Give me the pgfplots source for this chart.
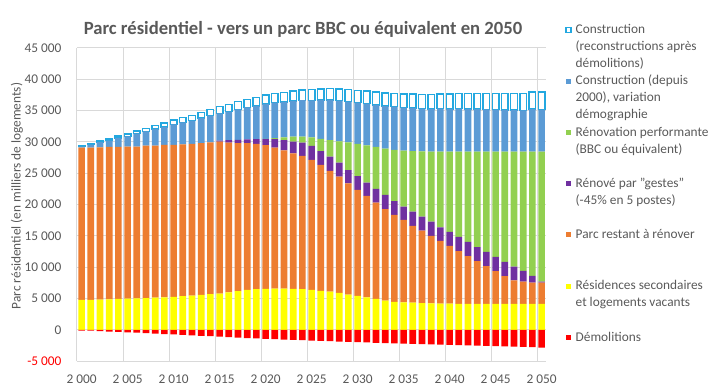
\documentclass[border=0pt]{standalone}
\usepackage{fontspec}
\setmainfont{Carlito}
\usepackage{pgfplots}
\pgfplotsset{compat=1.18}
\usepackage{pgfplotstable}
\definecolor{cred}{HTML}{FF0000}
\definecolor{cyel}{HTML}{FFFF00}
\definecolor{cora}{HTML}{ED7D31}
\definecolor{cpur}{HTML}{7030A0}
\definecolor{cgre}{HTML}{92D050}
\definecolor{cblu}{HTML}{5B9BD5}
\definecolor{cbox}{RGB}{35,168,224}
\definecolor{textgray}{HTML}{595959}
\definecolor{gridgray}{HTML}{D9D9D9}

\pgfplotstableread{
year dem yel ora pur gre blu whi
2000 -0.10 4.80 24.30 0 0 0.16 0.10
2001 -0.10 4.80 24.30 0 0 0.48 0.10
2002 -0.20 4.85 24.30 0 0 0.81 0.20
2003 -0.25 4.90 24.30 0 0 1.03 0.25
2004 -0.30 4.95 24.25 0 0 1.46 0.30
2005 -0.37 5.00 24.25 0 0 1.66 0.37
2006 -0.42 5.05 24.20 0 0 2.09 0.42
2007 -0.50 5.10 24.30 0 0 2.28 0.50
2008 -0.57 5.15 24.25 0 0 2.69 0.57
2009 -0.65 5.20 24.35 0 0 2.83 0.65
2010 -0.72 5.30 24.25 0 0 3.24 0.72
2011 -0.80 5.40 24.20 0 0 3.54 0.80
2012 -0.87 5.50 24.20 0 0 3.69 0.87
2013 -0.93 5.60 24.20 0 0 4.00 0.93
2014 -1.00 5.70 24.25 0 0 4.26 1.00
2015 -1.07 5.80 24.25 0.15 0 4.37 1.07
2016 -1.15 6.00 23.90 0.40 0 4.56 1.15
2017 -1.22 6.20 23.60 0.55 0 4.87 1.22
2018 -1.30 6.40 23.40 0.60 0 5.11 1.30
2019 -1.36 6.50 23.20 0.75 0 5.32 1.36
2020 -1.42 6.55 22.95 0.95 0.05 5.58 1.42
2021 -1.48 6.60 22.50 1.35 0.15 5.69 1.48
2022 -1.53 6.60 22.05 1.65 0.45 5.65 1.53
2023 -1.59 6.55 21.65 1.86 0.79 5.70 1.59
2024 -1.64 6.50 21.27 2.12 0.96 5.81 1.64
2025 -1.70 6.40 20.73 2.23 1.38 5.91 1.70
2026 -1.75 6.25 20.08 2.23 1.94 6.21 1.75
2027 -1.80 6.10 19.27 2.29 2.64 6.41 1.80
2028 -1.85 5.90 18.57 2.23 3.40 6.51 1.85
2029 -1.90 5.65 17.75 2.10 4.45 6.50 1.90
2030 -1.95 5.45 16.89 2.23 5.13 6.59 1.95
2031 -2.00 5.20 16.18 2.13 5.94 6.69 2.00
2032 -2.05 4.95 15.37 2.18 6.70 6.73 2.05
2033 -2.10 4.70 14.60 2.24 7.41 6.77 2.10
2034 -2.14 4.50 13.85 2.23 8.17 6.88 2.14
2035 -2.18 4.42 13.13 2.13 8.94 6.86 2.18
2036 -2.23 4.36 12.24 2.28 9.67 6.88 2.23
2037 -2.27 4.30 11.55 2.24 10.41 6.83 2.27
2038 -2.31 4.25 10.75 2.29 11.17 6.83 2.31
2039 -2.35 4.22 9.98 2.18 12.08 6.85 2.35
2040 -2.39 4.20 9.20 2.24 12.82 6.81 2.39
2041 -2.43 4.18 8.42 2.24 13.62 6.88 2.43
2042 -2.47 4.18 7.62 2.24 14.42 6.84 2.47
2043 -2.51 4.18 6.82 2.24 15.22 6.80 2.51
2044 -2.55 4.18 6.02 2.25 16.01 6.76 2.55
2045 -2.59 4.18 5.22 2.25 16.81 6.72 2.59
2046 -2.63 4.18 4.42 2.25 17.61 6.68 2.63
2047 -2.67 4.18 3.72 2.20 18.36 6.64 2.67
2048 -2.71 4.18 3.52 1.71 19.05 6.60 2.71
2049 -2.75 4.18 3.37 1.07 19.84 6.77 2.75
2050 -2.80 4.18 3.37 0.16 20.75 6.72 2.80
}\data

\begin{document}
\begin{tikzpicture}
\useasboundingbox (0,0) rectangle (534.75pt,291.75pt);
\begin{axis}[
  at={(57.75pt,20.78pt)}, anchor=south west,
  width=351.9pt, height=234.98pt, scale only axis,
  ybar stacked, bar width=0.72,
  xmin=1999.5, xmax=2050.5, ymin=-5, ymax=45,
  xtick={2000,2005,...,2050},
  xticklabels={2~000,2~005,2~010,2~015,2~020,2~025,2~030,2~035,2~040,2~045,2~050},
  minor xtick={1999.5,2004.5,2009.5,2014.5,2019.5,2024.5,2029.5,2034.5,2039.5,2044.5,2049.5},
  ytick={-5,0,5,10,15,20,25,30,35,40,45},
  yticklabels={\textcolor{cred}{-5~000},0,5~000,10~000,15~000,20~000,25~000,30~000,35~000,40~000,45~000},
  ymajorgrids, xminorgrids, xmajorgrids=false,
  grid style={draw=gridgray, line width=0.75pt},
  minor grid style={draw=gridgray, line width=0.75pt},
  major tick length=0pt, minor tick length=0pt,
  axis line style={draw=none},
  tick label style={font=\fontsize{10}{12}\selectfont, text=textgray},
  xticklabel style={yshift=-6.7pt},
  yticklabel style={xshift=-8.1pt},
  reverse legend,
  legend image code/.code={\path[#1] (0pt,0.9pt) rectangle (3.75pt,4.65pt);},
  legend style={at={(1.040,1.0932)}, anchor=north west, draw=none, fill=none,
    inner sep=0pt, row sep=24pt, column sep=1pt,
    font=\fontsize{10}{12.75}\selectfont, text=textgray,
    cells={anchor=base west}},
]
\addplot[fill=cred, draw=none] table[x=year,y=dem]{\data};
\addlegendentry{\parbox[t]{120pt}{\strut Démolitions}}
\addplot[fill=cyel, draw=none] table[x=year,y=yel]{\data};
\addlegendentry{\parbox[t]{120pt}{\strut Résidences secondaires\\et logements vacants}}
\addplot[fill=cora, draw=none] table[x=year,y=ora]{\data};
\addlegendentry{\parbox[t]{120pt}{\strut Parc restant à rénover}}
\addplot[fill=cpur, draw=none] table[x=year,y=pur]{\data};
\addlegendentry{\parbox[t]{120pt}{\strut Rénové par "gestes"\\(-45\% en 5 postes)}}
\addplot[fill=cgre, draw=none] table[x=year,y=gre]{\data};
\addlegendentry{\parbox[t]{120pt}{\strut Rénovation performante\\(BBC ou équivalent)}}
\addplot[fill=cblu, draw=none] table[x=year,y=blu]{\data};
\addlegendentry{\parbox[t]{120pt}{\strut Construction (depuis\\2000), variation\\démographie}}
\addplot[fill=white, draw=cbox, line width=1.1pt] table[x=year,y=whi]{\data};
\addlegendentry{\parbox[t]{120pt}{\strut Construction\\(reconstructions après\\démolitions)}}
\end{axis}
\node[anchor=base, font=\fontsize{14}{17}\selectfont\bfseries, text=textgray] at (227.25pt,265.5pt) {Parc résidentiel - vers un parc BBC ou équivalent en 2050};
\node[rotate=90, font=\fontsize{10}{12}\selectfont, text=textgray] at (12.75pt,144.75pt) {Parc résidentiel (en milliers de logements)};
\end{tikzpicture}
\end{document}
